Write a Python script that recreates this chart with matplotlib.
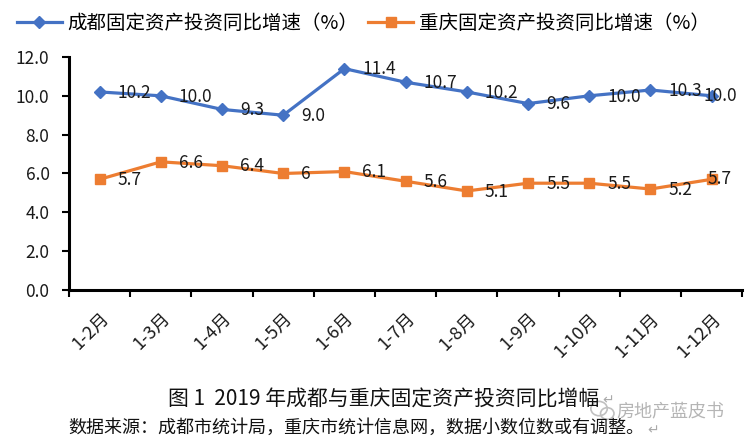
import matplotlib.pyplot as plt
import numpy as np
from matplotlib.patches import Ellipse

plt.rcParams['font.family'] = ['Noto Sans CJK SC', 'DejaVu Sans']

months = ["1-2月", "1-3月", "1-4月", "1-5月", "1-6月", "1-7月",
          "1-8月", "1-9月", "1-10月", "1-11月", "1-12月"]
chengdu = [10.2, 10.0, 9.3, 9.0, 11.4, 10.7, 10.2, 9.6, 10.0, 10.3, 10.0]
chongqing = [5.7, 6.6, 6.4, 6.0, 6.1, 5.6, 5.1, 5.5, 5.5, 5.2, 5.7]
chengdu_labels = ["10.2", "10.0", "9.3", "9.0", "11.4", "10.7", "10.2", "9.6", "10.0", "10.3", "10.0"]
chongqing_labels = ["5.7", "6.6", "6.4", "6", "6.1", "5.6", "5.1", "5.5", "5.5", "5.2", "5.7"]
yticks = [0, 2, 4, 6, 8, 10, 12]

BLUE = "#4472C4"
ORANGE = "#ED7D31"
TXT = "#1a1a1a"

fig = plt.figure(figsize=(7.46, 4.48), dpi=100)
ax = fig.add_axes([0.0925, 0.3527, 0.9025, 0.5201])

x = np.arange(len(months))
ax.plot(x, chengdu, color=BLUE, lw=2.3, marker="D", ms=6.5,
        label="成都固定资产投资同比增速（%）")
ax.plot(x, chongqing, color=ORANGE, lw=2.3, marker="s", ms=7,
        label="重庆固定资产投资同比增速（%）")


def put_labels(vals, texts):
    last = len(vals) - 1
    for xi, v, s in zip(x, vals, texts):
        # Excel squeezes the last label back over its marker
        if xi == last:
            ax.annotate(s, (xi, v), xytext=(6, 0), textcoords="offset points",
                        ha="center", va="center", fontsize=12.5, color=TXT)
        else:
            ax.annotate(s, (xi, v), xytext=(13, -0.5), textcoords="offset points",
                        ha="left", va="center", fontsize=12.5, color=TXT)


put_labels(chengdu, chengdu_labels)
put_labels(chongqing, chongqing_labels)

ax.set_xlim(-0.5, len(months) - 0.5)
ax.set_ylim(0, 12)
ax.set_yticks(yticks)
ax.set_yticklabels([f"{t:.1f}" for t in yticks], fontsize=12.5, color=TXT)

# category ticks sit between categories, labels at the centres
ax.set_xticks(x)
ax.set_xticklabels(months, rotation=45, ha="right", rotation_mode="anchor",
                   fontsize=13, color=TXT)
ax.tick_params(axis="x", which="major", length=0, pad=14)
ax.set_xticks(np.arange(-0.5, len(months)), minor=True)
ax.tick_params(axis="x", which="minor", length=5, width=1.5, direction="out")
ax.tick_params(axis="y", length=5, width=1.5, direction="out", pad=9)

for side in ("top", "right"):
    ax.spines[side].set_visible(False)
for side in ("left", "bottom"):
    ax.spines[side].set_linewidth(2.2)
    ax.spines[side].set_color("black")

fig.legend(loc="upper center", bbox_to_anchor=(0.487, 1.01), ncol=2, frameon=False,
           fontsize=14, handlelength=2.3, columnspacing=0.5, handletextpad=0.3)

fig.text(0.225, 0.107, "图 1  2019 年成都与重庆固定资产投资同比增幅", ha="left", va="center",
         fontsize=15, color="#111111")
fig.text(0.808, 0.107, "↵", ha="left", va="center", fontsize=10, color="#aaaaaa")
fig.text(0.091, 0.045, "数据来源：成都市统计局，重庆市统计信息网，数据小数位数或有调整。",
         ha="left", va="center", fontsize=13, color="#111111")
fig.text(0.868, 0.04, "↵", ha="left", va="center", fontsize=10, color="#aaaaaa")

# watermark with a rough chat-bubble icon
fig.text(0.826, 0.080, "房地产蓝皮书", ha="left", va="center", fontsize=13,
         color="#b5b5b5", style="italic")
fig.patches.append(Ellipse((0.803, 0.088), 0.022, 0.032, transform=fig.transFigure,
                           fill=False, ec="#c0c0c0", lw=1.2))
fig.patches.append(Ellipse((0.814, 0.077), 0.018, 0.026, transform=fig.transFigure,
                           fill=False, ec="#c0c0c0", lw=1.2))

fig.savefig("out.png", dpi=100)
